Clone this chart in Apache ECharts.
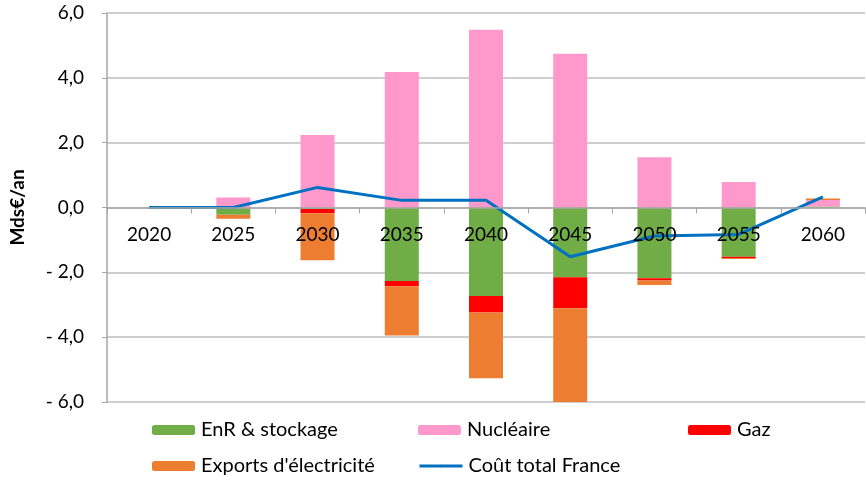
<!DOCTYPE html>
<html>
<head>
<meta charset="utf-8">
<script src="https://cdn.jsdelivr.net/npm/echarts@6/dist/echarts.min.js"></script>
<style>
  html, body { margin: 0; padding: 0; background: #fff; }
  #chart { width: 866px; height: 481px; }
</style>
</head>
<body>
<div id="chart"></div>
<script>
// années
var years = ['2020', '2025', '2030', '2035', '2040', '2045', '2050', '2055', '2060'];
var enr = [0, -0.22, -0.05, -2.27, -2.73, -2.15, -2.18, -1.52, 0.03];
var nucleaire = [0, 0.31, 2.24, 4.18, 5.48, 4.74, 1.55, 0.79, 0.2];
var gaz = [0, 0, -0.13, -0.16, -0.51, -0.96, -0.07, -0.04, 0];
var exports = [0, -0.13, -1.45, -1.52, -2.03, -2.93, -0.14, -0.03, 0.05];
var coutTotal = [0, 0, 0.62, 0.22, 0.22, -1.52, -0.88, -0.83, 0.33];

var fontFamily = 'Lato, "Open Sans", sans-serif';

var myChart = echarts.init(document.getElementById('chart'));

// une légende par entrée pour la placer comme dans l'original
function legendAt(name, left, top, isLine) {
  var lg = {
    data: [name],
    left: left,
    top: top,
    itemWidth: 43,
    itemHeight: isLine ? 3 : 10,
    itemGap: 0,
    padding: 0,
    textStyle: { fontFamily: fontFamily, fontSize: 20, color: '#000', padding: [0, 0, 0, 1] },
    selectedMode: false
  };
  if (isLine) lg.lineStyle = { width: 3 };
  return lg;
}

var option = {
  animation: false,
  textStyle: { fontFamily: fontFamily },
  color: ['#70AD47', '#FF99CC', '#FF0000', '#ED7D31', '#0070C0'],
  grid: { left: 100, right: 1, top: 13, bottom: 79 },
  legend: [
    legendAt('EnR & stockage', 152, 420),
    legendAt('Nucléaire', 418, 420),
    legendAt('Gaz', 688, 420),
    legendAt("Exports d'électricité", 152, 456),
    legendAt('Coût total France', 418, 456, true)
  ],
  xAxis: {
    type: 'category',
    data: years,
    // axe des catégories remonté sur la ligne du zéro
    offset: -194.5,
    axisLine: { onZero: false, lineStyle: { color: '#A6A6A6', width: 1.5 } },
    axisTick: { show: true, length: 6, lineStyle: { color: '#A6A6A6' } },
    axisLabel: { margin: 18, fontSize: 19, color: '#000', fontFamily: fontFamily },
    z: 10
  },
  yAxis: {
    type: 'value',
    min: -6,
    max: 6,
    interval: 2,
    name: 'Mds€/an',
    nameLocation: 'middle',
    nameGap: 80,
    nameTextStyle: { fontSize: 19, fontWeight: 'bold', color: '#000', fontFamily: fontFamily },
    axisLine: { show: true, lineStyle: { color: '#A6A6A6', width: 1.5 } },
    axisTick: { show: true, length: 5, lineStyle: { color: '#A6A6A6' } },
    splitLine: { lineStyle: { color: '#BFBFBF', width: 1.5 } },
    axisLabel: {
      margin: 23,
      fontSize: 19,
      color: '#000',
      fontFamily: fontFamily,
      formatter: function (v) {
        var s = Math.abs(v).toFixed(1).replace('.', ',');
        return v < 0 ? '- ' + s : s;
      }
    }
  },
  series: [
    { name: 'EnR & stockage', type: 'bar', stack: 'total', barWidth: 34, data: enr },
    { name: 'Nucléaire', type: 'bar', stack: 'total', barWidth: 34, data: nucleaire },
    { name: 'Gaz', type: 'bar', stack: 'total', barWidth: 34, data: gaz },
    { name: "Exports d'électricité", type: 'bar', stack: 'total', barWidth: 34, data: exports },
    {
      name: 'Coût total France',
      type: 'line',
      data: coutTotal,
      symbol: 'none',
      lineStyle: { width: 3, color: '#0070C0' },
      z: 5
    }
  ]
};

myChart.setOption(option);
</script>
</body>
</html>
